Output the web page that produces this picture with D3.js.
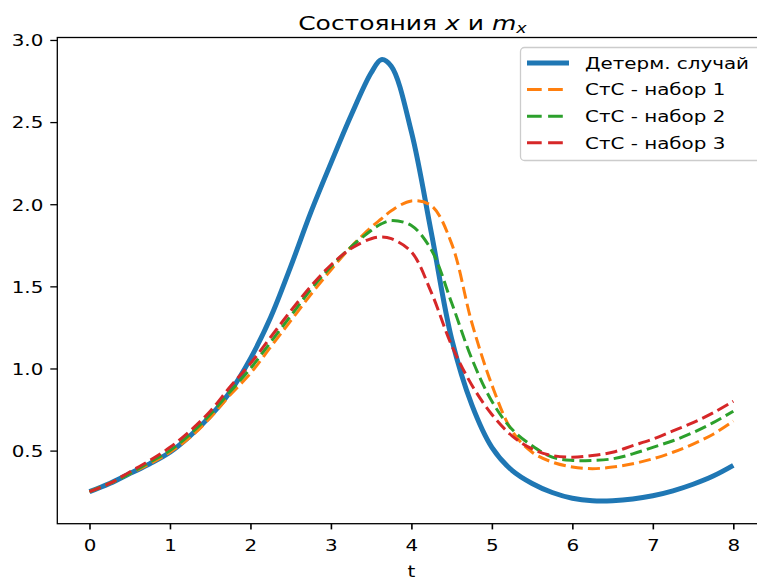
<!DOCTYPE html>
<html lang="ru">
<head>
    <meta charset="UTF-8">
    <title>Состояния x и m_x</title>
    <script src="https://d3js.org/d3.v7.min.js"></script>
    <style>
        body { margin: 0; background: #fff; }
        svg text { font-family: "DejaVu Sans", sans-serif; fill: #000; }
        .tick text { font-size: 16.3px; }
        .tick line { stroke: #000; }
    </style>
</head>
<body>
    <svg width="757" height="581"></svg>
    <script>
        // sample times shared by all series
        const tValues = [0, 0.25, 0.5, 0.75, 1, 1.25, 1.5, 1.75, 2, 2.25, 2.5, 2.75, 3, 3.25, 3.5, 3.625, 3.75,
            4, 4.25, 4.5, 4.75, 5, 5.25, 5.5, 5.75, 6, 6.25, 6.5, 6.75, 7, 7.25, 7.5, 7.75, 8];

        const determ = [0.25, 0.30, 0.36, 0.42, 0.49, 0.59, 0.71, 0.86, 1.06, 1.31, 1.62, 1.95, 2.25, 2.54, 2.80, 2.88, 2.84,
            2.44, 1.82, 1.18, 0.78, 0.52, 0.38, 0.30, 0.245, 0.21, 0.195, 0.195, 0.205, 0.225, 0.255, 0.295, 0.345, 0.41];

        const set1 = [0.25, 0.30, 0.36, 0.42, 0.49, 0.58, 0.70, 0.84, 0.97, 1.13, 1.29, 1.45, 1.60, 1.74, 1.86, 1.91, 1.96,
            2.02, 1.99, 1.76, 1.28, 0.90, 0.62, 0.49, 0.43, 0.40, 0.39, 0.40, 0.42, 0.45, 0.49, 0.54, 0.60, 0.68];

        const set2 = [0.25, 0.30, 0.36, 0.43, 0.50, 0.60, 0.72, 0.86, 1.00, 1.16, 1.32, 1.48, 1.62, 1.74, 1.84, 1.88, 1.90,
            1.87, 1.72, 1.40, 1.06, 0.80, 0.63, 0.53, 0.46, 0.44, 0.44, 0.45, 0.48, 0.52, 0.56, 0.61, 0.67, 0.74];

        const set3 = [0.25, 0.30, 0.37, 0.44, 0.52, 0.62, 0.74, 0.89, 1.03, 1.19, 1.35, 1.50, 1.63, 1.73, 1.79, 1.80, 1.79,
            1.71, 1.46, 1.14, 0.90, 0.72, 0.59, 0.51, 0.47, 0.46, 0.47, 0.49, 0.53, 0.57, 0.62, 0.67, 0.73, 0.80];

        const seriesNames = ["Детерм. случай", "СтС - набор 1", "СтС - набор 2", "СтС - набор 3"];
        const seriesColors = ["#1f77b4", "#ff7f0e", "#2ca02c", "#d62728"];
        const xTicks = [0, 1, 2, 3, 4, 5, 6, 7, 8];
        const yTicks = [0.5, 1.0, 1.5, 2.0, 2.5, 3.0];

        const series = [determ, set1, set2, set3];

        // the picture is wider than it is tall compared to the original figure, so text is stretched sideways
        const sx = 1.22;

        const svg = d3.select("svg");
        const plotLeft = 57.3, plotRight = 765.5, plotTop = 37.5, plotBottom = 523.7;

        const x = d3.scaleLinear().domain([-0.4, 8.4]).range([plotLeft, plotRight]);
        const y = d3.scaleLinear().domain([0.055, 3.015]).range([plotBottom, plotTop]);

        svg.append("defs").append("clipPath").attr("id", "plotclip")
            .append("rect")
            .attr("x", plotLeft).attr("y", plotTop)
            .attr("width", plotRight - plotLeft).attr("height", plotBottom - plotTop);

        const plot = svg.append("g").attr("clip-path", "url(#plotclip)");

        const line = d3.line()
            .x((d, i) => x(tValues[i]))
            .y(d => y(d))
            .curve(d3.curveCatmullRom.alpha(0.5));

        series.forEach((vals, i) => {
            plot.append("path")
                .datum(vals)
                .attr("d", line)
                .attr("fill", "none")
                .attr("stroke", seriesColors[i])
                .attr("stroke-width", i === 0 ? 5 : 3)
                .attr("stroke-dasharray", i === 0 ? null : "12,5.2")
                .attr("stroke-linecap", "butt");
        });

        // frame
        svg.append("rect")
            .attr("x", plotLeft).attr("y", plotTop)
            .attr("width", plotRight - plotLeft).attr("height", plotBottom - plotTop)
            .attr("fill", "none").attr("stroke", "#000").attr("stroke-width", 1.3);

        const xAxis = svg.append("g")
            .attr("transform", `translate(0,${plotBottom})`)
            .call(d3.axisBottom(x).tickValues(xTicks).tickFormat(d3.format("d"))
                .tickSize(5.7).tickSizeOuter(0));
        xAxis.select(".domain").remove();
        xAxis.selectAll(".tick line").attr("stroke-width", 1.6);
        xAxis.selectAll(".tick text")
            .attr("y", 27.3).attr("dy", null)
            .attr("transform", `scale(${sx},1)`);

        const yAxis = svg.append("g")
            .attr("transform", `translate(${plotLeft},0)`)
            .call(d3.axisLeft(y).tickValues(yTicks).tickFormat(d3.format(".1f"))
                .tickSize(7).tickSizeOuter(0));
        yAxis.select(".domain").remove();
        yAxis.selectAll(".tick line").attr("stroke-width", 1.3);
        yAxis.selectAll(".tick text")
            .attr("x", -14 / sx).attr("dy", "0.36em")
            .attr("transform", `scale(${sx},1)`);

        const midX = (plotLeft + plotRight) / 2;

        // title
        const title = svg.append("text")
            .attr("transform", `translate(${midX + 1},29.5) scale(1.25,1)`)
            .attr("text-anchor", "middle")
            .style("font-size", "20px");
        title.append("tspan").text("Состояния ");
        title.append("tspan").style("font-style", "italic").text("x");
        title.append("tspan").text(" и ");
        title.append("tspan").style("font-style", "italic").text("m");
        title.append("tspan").style("font-style", "italic").style("font-size", "14px")
            .attr("dy", 3.5).text("x");

        svg.append("text")
            .attr("transform", `translate(${midX},577) scale(${sx},1)`)
            .attr("text-anchor", "middle")
            .style("font-size", "16.3px")
            .text("t");

        // legend
        const legend = svg.append("g");
        legend.append("rect")
            .attr("x", 520.5).attr("y", 47.5)
            .attr("width", 240).attr("height", 113)
            .attr("rx", 4)
            .attr("fill", "#fff").attr("fill-opacity", 0.8)
            .attr("stroke", "#cccccc").attr("stroke-width", 1.3);

        seriesNames.forEach((name, i) => {
            const rowY = 63 + i * 26.6;
            legend.append("line")
                .attr("x1", 527).attr("x2", 569)
                .attr("y1", rowY).attr("y2", rowY)
                .attr("stroke", seriesColors[i])
                .attr("stroke-width", i === 0 ? 5 : 3)
                .attr("stroke-dasharray", i === 0 ? null : "14.7,6.4");
            legend.append("text")
                .attr("transform", `translate(585,${rowY}) scale(${sx},1)`)
                .attr("dy", "0.36em")
                .style("font-size", "16.3px")
                .text(name);
        });
    </script>
</body>
</html>
